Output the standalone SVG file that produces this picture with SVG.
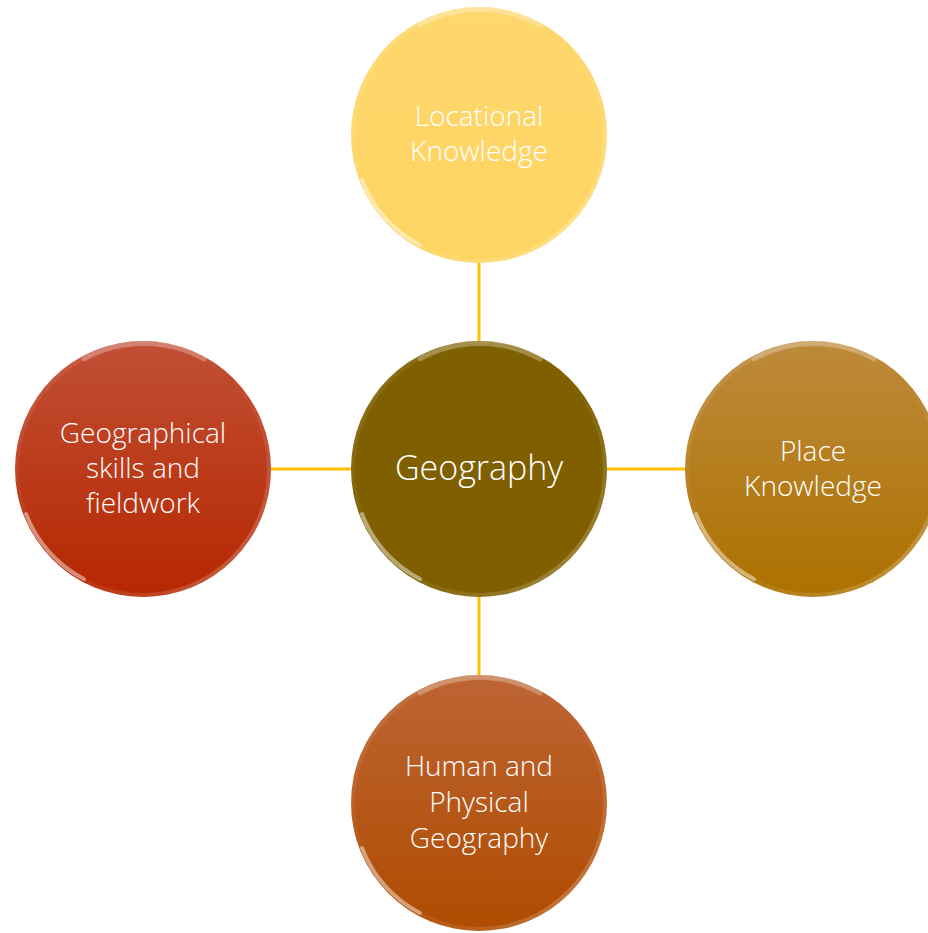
<svg xmlns="http://www.w3.org/2000/svg" width="928" height="933" viewBox="0 0 928 933">
<style>
.conn{stroke:#FFC000;stroke-width:3;fill:none}
.lbl{font-family:"Open Sans","Noto Sans","DejaVu Sans",sans-serif;font-weight:300;fill:#FFFFFF;text-anchor:middle;font-size:28px}
.big{font-size:34px}
.rim{fill:none;stroke:url(#rimG);stroke-width:4}
.hl{fill:none;stroke:#FFFFFF;stroke-opacity:0.45;stroke-width:4;stroke-linecap:round}
.top{fill:none;stroke:#FFFFFF;stroke-opacity:0.25;stroke-width:5;stroke-linecap:round}
</style>
<defs>
<linearGradient id="gTop" x1="0" y1="0" x2="0" y2="1"><stop offset="0" stop-color="#FED76D"/><stop offset="1" stop-color="#FED562"/></linearGradient>
<linearGradient id="gCen" x1="0" y1="0" x2="0" y2="1"><stop offset="0" stop-color="#7F6000"/><stop offset="1" stop-color="#7F5F00"/></linearGradient>
<linearGradient id="gRight" x1="0" y1="0" x2="0" y2="1"><stop offset="0" stop-color="#BD8A3B"/><stop offset="1" stop-color="#AD7100"/></linearGradient>
<linearGradient id="gLeft" x1="0" y1="0" x2="0" y2="1"><stop offset="0" stop-color="#C14F35"/><stop offset="1" stop-color="#B52700"/></linearGradient>
<linearGradient id="gBot" x1="0" y1="0" x2="0" y2="1"><stop offset="0" stop-color="#BD6434"/><stop offset="1" stop-color="#AF4C00"/></linearGradient>
<linearGradient id="rimG" x1="0" y1="0" x2="1" y2="1"><stop offset="0" stop-color="#FFFFFF" stop-opacity="0.12"/><stop offset="0.5" stop-color="#FFFFFF" stop-opacity="0.0"/><stop offset="0.8" stop-color="#FFFFFF" stop-opacity="0.15"/><stop offset="1" stop-color="#FFFFFF" stop-opacity="0.35"/></linearGradient>
</defs>
<g id="connectors">
<line class="conn" x1="479" y1="262" x2="479" y2="343"/>
<line class="conn" x1="479" y1="596" x2="479" y2="676"/>
<line class="conn" x1="271" y1="469" x2="351" y2="469"/>
<line class="conn" x1="606" y1="469" x2="686" y2="469"/>
</g>
<g id="node-locational">
<circle cx="479" cy="135" r="128" fill="url(#gTop)"/>
<path class="hl" d="M 362 180 A 122 122 0 0 0 420 245"/>
<path class="top" d="M 420 25 A 124 124 0 0 1 540 25"/>
<circle class="rim" cx="479" cy="135" r="126"/>
<text class="lbl" x="479" y="126">Locational</text>
<text class="lbl" x="479" y="161">Knowledge</text>
</g>
<g id="node-geography">
<circle cx="479" cy="469" r="128" fill="url(#gCen)"/>
<path class="hl" d="M 362 514 A 122 122 0 0 0 420 579"/>
<path class="top" d="M 420 359 A 124 124 0 0 1 540 359"/>
<circle class="rim" cx="479" cy="469" r="126"/>
<text class="lbl big" x="479" y="480">Geography</text>
</g>
<g id="node-place">
<circle cx="813" cy="469" r="128" fill="url(#gRight)"/>
<path class="hl" d="M 696 514 A 122 122 0 0 0 754 579"/>
<path class="top" d="M 754 359 A 124 124 0 0 1 874 359"/>
<circle class="rim" cx="813" cy="469" r="126"/>
<text class="lbl" x="813" y="461">Place</text>
<text class="lbl" x="813" y="496">Knowledge</text>
</g>
<g id="node-skills">
<circle cx="143" cy="469" r="128" fill="url(#gLeft)"/>
<path class="hl" d="M 26 514 A 122 122 0 0 0 84 579"/>
<path class="top" d="M 84 359 A 124 124 0 0 1 204 359"/>
<circle class="rim" cx="143" cy="469" r="126"/>
<text class="lbl" x="143" y="443">Geographical</text>
<text class="lbl" x="143" y="478">skills and</text>
<text class="lbl" x="143" y="513">fieldwork</text>
</g>
<g id="node-human">
<circle cx="479" cy="803" r="128" fill="url(#gBot)"/>
<path class="hl" d="M 362 848 A 122 122 0 0 0 420 913"/>
<path class="top" d="M 420 693 A 124 124 0 0 1 540 693"/>
<circle class="rim" cx="479" cy="803" r="126"/>
<text class="lbl" x="479" y="776" font-size="26">Human and</text>
<text class="lbl" x="479" y="812" font-size="26">Physical</text>
<text class="lbl" x="479" y="848" font-size="26">Geography</text>
</g>
</svg>
